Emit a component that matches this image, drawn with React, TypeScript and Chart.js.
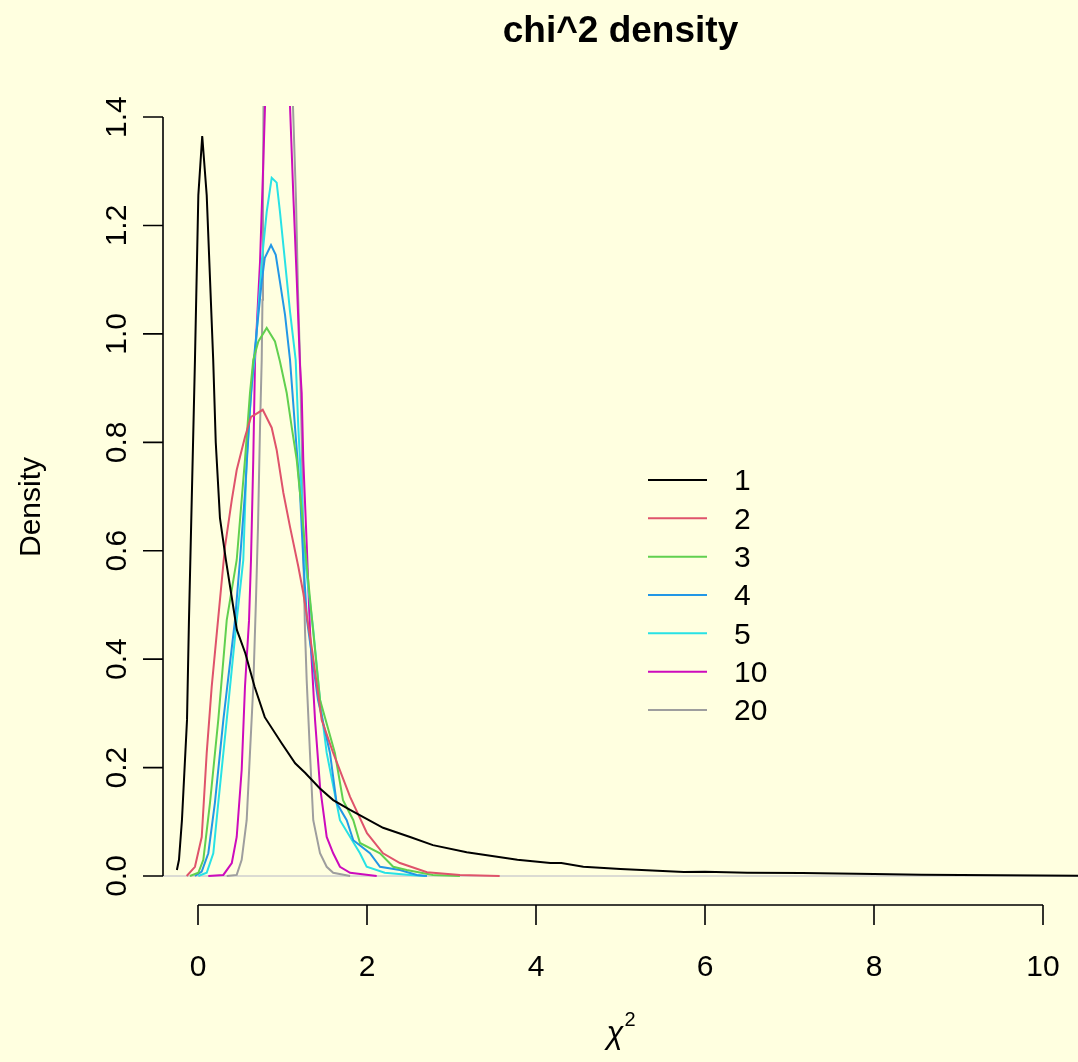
import React, { useEffect, useRef } from 'react';
import { Chart, registerables } from 'chart.js';

Chart.register(...registerables);

// ---------- data ----------
const seriesLabels = ['1', '2', '3', '4', '5', '10', '20'];
const seriesColors = ['#000000', '#DF536B', '#61D04F', '#2297E6', '#28E2E5', '#CD0BBC', '#9E9E9E'];

const df1X = [-0.25, -0.225, -0.19, -0.13, -0.107, -0.036, 0.004, 0.05, 0.103, 0.18, 0.21, 0.26, 0.33, 0.46, 0.56, 0.67, 0.79, 0.99, 1.15, 1.27, 1.44, 1.6, 1.8, 2.19, 2.51, 2.78, 3.18, 3.78, 4.17, 4.3, 4.56, 5.0, 5.75, 6.0, 6.5, 7.15, 8.0, 8.56, 9.5, 10.44];
const df1Y = [0.011, 0.03, 0.103, 0.288, 0.472, 0.952, 1.256, 1.365, 1.256, 0.952, 0.8, 0.66, 0.583, 0.454, 0.411, 0.349, 0.293, 0.245, 0.208, 0.19, 0.162, 0.14, 0.122, 0.089, 0.072, 0.057, 0.044, 0.03, 0.024, 0.024, 0.017, 0.013, 0.0074, 0.008, 0.006, 0.0055, 0.0035, 0.0024, 0.0012, 0.0006];

const df2X = [-0.134, -0.036, 0.044, 0.103, 0.162, 0.237, 0.32, 0.4, 0.458, 0.556, 0.627, 0.675, 0.766, 0.872, 0.931, 1.01, 1.089, 1.187, 1.246, 1.35, 1.464, 1.6, 1.8, 2.0, 2.19, 2.39, 2.71, 3.1, 3.57];
const df2Y = [0.0, 0.017, 0.072, 0.227, 0.349, 0.472, 0.608, 0.694, 0.749, 0.81, 0.847, 0.851, 0.86, 0.827, 0.786, 0.707, 0.644, 0.571, 0.522, 0.417, 0.288, 0.227, 0.146, 0.079, 0.042, 0.024, 0.007, 0.002, 0.0];

const df3X = [-0.095, 0.004, 0.063, 0.142, 0.24, 0.34, 0.458, 0.556, 0.615, 0.654, 0.714, 0.813, 0.911, 0.97, 1.05, 1.109, 1.168, 1.227, 1.266, 1.35, 1.444, 1.62, 1.716, 1.838, 1.917, 2.154, 2.31, 2.47, 2.78, 3.1];
const df3Y = [0.0, 0.006, 0.03, 0.135, 0.288, 0.472, 0.583, 0.768, 0.891, 0.952, 0.986, 1.011, 0.986, 0.949, 0.891, 0.828, 0.768, 0.675, 0.607, 0.472, 0.325, 0.227, 0.14, 0.103, 0.061, 0.042, 0.017, 0.011, 0.002, 0.0];

const df4X = [-0.036, 0.044, 0.122, 0.2, 0.3, 0.438, 0.497, 0.556, 0.615, 0.654, 0.754, 0.79, 0.864, 0.92, 0.97, 1.03, 1.089, 1.148, 1.207, 1.246, 1.29, 1.42, 1.562, 1.64, 1.76, 1.838, 2.035, 2.154, 2.39, 2.59, 2.71];
const df4Y = [0.0, 0.008, 0.042, 0.135, 0.288, 0.472, 0.583, 0.707, 0.86, 0.943, 1.096, 1.14, 1.164, 1.146, 1.096, 1.035, 0.952, 0.828, 0.707, 0.583, 0.472, 0.325, 0.227, 0.135, 0.103, 0.066, 0.042, 0.017, 0.011, 0.002, 0.0];

const df5X = [0.004, 0.103, 0.181, 0.24, 0.34, 0.458, 0.536, 0.576, 0.627, 0.675, 0.754, 0.813, 0.872, 0.931, 0.97, 1.03, 1.089, 1.156, 1.187, 1.227, 1.266, 1.364, 1.444, 1.523, 1.68, 1.917, 1.996, 2.21, 2.51, 2.69];
const df5Y = [0.0, 0.006, 0.042, 0.135, 0.288, 0.472, 0.583, 0.768, 0.891, 0.961, 1.133, 1.225, 1.288, 1.279, 1.225, 1.133, 1.041, 0.952, 0.828, 0.707, 0.583, 0.454, 0.325, 0.227, 0.103, 0.042, 0.017, 0.006, 0.002, 0.0];

const df10X = [0.122, 0.3, 0.4, 0.458, 0.517, 0.556, 0.604, 0.627, 0.654, 0.675, 0.734, 0.773, 0.793, 0.85, 0.93, 1.01, 1.089, 1.128, 1.168, 1.207, 1.227, 1.246, 1.286, 1.325, 1.385, 1.444, 1.523, 1.6, 1.68, 1.8, 2.115];
const df10Y = [0.0, 0.002, 0.024, 0.072, 0.196, 0.349, 0.472, 0.583, 0.768, 0.952, 1.133, 1.317, 1.42, 1.7, 1.85, 1.7, 1.42, 1.256, 1.103, 0.943, 0.891, 0.768, 0.614, 0.454, 0.288, 0.165, 0.072, 0.042, 0.017, 0.006, 0.0];

const df20X = [0.34, 0.458, 0.517, 0.576, 0.615, 0.654, 0.686, 0.71, 0.734, 0.754, 0.763, 0.769, 0.775, 0.8, 0.95, 1.09, 1.124, 1.16, 1.183, 1.207, 1.23, 1.243, 1.266, 1.286, 1.325, 1.364, 1.444, 1.523, 1.6, 1.8];
const df20Y = [0.0, 0.002, 0.03, 0.103, 0.227, 0.349, 0.509, 0.644, 0.828, 0.952, 1.063, 1.247, 1.42, 2.0, 2.5, 2.0, 1.42, 1.247, 1.081, 0.952, 0.786, 0.62, 0.454, 0.362, 0.227, 0.103, 0.042, 0.017, 0.006, 0.0];

const seriesX = [df1X, df2X, df3X, df4X, df5X, df10X, df20X];
const seriesY = [df1Y, df2Y, df3Y, df4Y, df5Y, df10Y, df20Y];

const xTicks = [0, 2, 4, 6, 8, 10];
const yTicks = [0, 0.2, 0.4, 0.6, 0.8, 1.0, 1.2, 1.4];
const yTickLabels = ['0.0', '0.2', '0.4', '0.6', '0.8', '1.0', '1.2', '1.4'];

const BG = '#FFFFE0';
const FONT = '"Liberation Sans", Arial, Helvetica, sans-serif';

const rPlot = {
  id: 'rPlot',
  beforeDraw(chart: any) {
    const ctx = chart.ctx;
    ctx.save();
    ctx.fillStyle = BG;
    ctx.fillRect(0, 0, chart.width, chart.height);
    ctx.restore();
  },
  beforeDatasetsDraw(chart: any) {
    const ctx = chart.ctx;
    const y = chart.scales.y.getPixelForValue(0);
    const a = chart.chartArea;
    ctx.save();
    ctx.strokeStyle = '#CFCFCF';
    ctx.lineWidth = 1.5;
    ctx.beginPath();
    ctx.moveTo(a.left, y);
    ctx.lineTo(a.right, y);
    ctx.stroke();
    ctx.restore();
  },
  afterDraw(chart: any) {
    const ctx = chart.ctx;
    const xs = chart.scales.x;
    const ys = chart.scales.y;
    const a = chart.chartArea;
    ctx.save();
    ctx.strokeStyle = '#000';
    ctx.fillStyle = '#000';
    ctx.lineWidth = 1.6;

    // x axis
    const axY = 905;
    const x0 = xs.getPixelForValue(xTicks[0]);
    const x1 = xs.getPixelForValue(xTicks[xTicks.length - 1]);
    ctx.beginPath();
    ctx.moveTo(x0, axY);
    ctx.lineTo(x1, axY);
    xTicks.forEach((t) => {
      const px = xs.getPixelForValue(t);
      ctx.moveTo(px, axY);
      ctx.lineTo(px, axY + 20);
    });
    ctx.stroke();
    ctx.font = `30px ${FONT}`;
    ctx.textAlign = 'center';
    ctx.textBaseline = 'alphabetic';
    xTicks.forEach((t) => {
      ctx.fillText(String(t), xs.getPixelForValue(t), 976);
    });

    // y axis
    const axX = a.left;
    const yA = ys.getPixelForValue(yTicks[0]);
    const yB = ys.getPixelForValue(yTicks[yTicks.length - 1]);
    ctx.beginPath();
    ctx.moveTo(axX, yA);
    ctx.lineTo(axX, yB);
    yTicks.forEach((t) => {
      const py = ys.getPixelForValue(t);
      ctx.moveTo(axX, py);
      ctx.lineTo(axX - 20, py);
    });
    ctx.stroke();
    yTicks.forEach((t, i) => {
      const py = ys.getPixelForValue(t);
      ctx.save();
      ctx.translate(126, py);
      ctx.rotate(-Math.PI / 2);
      ctx.textAlign = 'center';
      ctx.textBaseline = 'alphabetic';
      ctx.fillText(yTickLabels[i], 0, 0);
      ctx.restore();
    });

    // axis titles
    ctx.save();
    ctx.translate(40, 507);
    ctx.rotate(-Math.PI / 2);
    ctx.textAlign = 'center';
    ctx.fillText('Density', 0, 0);
    ctx.restore();

    ctx.textAlign = 'center';
    ctx.font = `italic 31px ${FONT}`;
    ctx.fillText('\u03C7', 615, 1043);
    ctx.font = `20px ${FONT}`;
    ctx.fillText('2', 630, 1026);

    // title
    ctx.font = `bold 37px ${FONT}`;
    ctx.fillText('chi^2 density', (a.left + chart.width) / 2, 42);

    // legend
    ctx.font = `30px ${FONT}`;
    ctx.textAlign = 'left';
    ctx.textBaseline = 'middle';
    seriesLabels.forEach((lab, i) => {
      const ly = 480 + i * 38.33;
      ctx.strokeStyle = seriesColors[i];
      ctx.lineWidth = 2;
      ctx.beginPath();
      ctx.moveTo(648, ly);
      ctx.lineTo(707, ly);
      ctx.stroke();
      ctx.fillStyle = '#000';
      ctx.fillText(lab, 734, ly + 2);
    });
    ctx.restore();
  },
};

export default function App() {
  const ref = useRef<HTMLCanvasElement | null>(null);
  useEffect(() => {
    document.body.style.margin = '0';
    document.body.style.background = BG;
    const canvas = ref.current;
    if (!canvas) return;
    const datasets = seriesLabels.map((lab, i) => ({
      label: lab,
      data: seriesX[i].map((x, j) => ({ x, y: seriesY[i][j] })),
      borderColor: seriesColors[i],
      borderWidth: 2,
      pointRadius: 0,
      tension: 0,
      fill: false,
    }));
    const chart = new Chart(canvas, {
      type: 'line',
      data: { datasets },
      options: {
        responsive: false,
        animation: false,
        events: [],
        layout: { padding: { left: 163, right: 0, top: 106, bottom: 156 } },
        plugins: { legend: { display: false }, tooltip: { enabled: false }, title: { display: false } },
        scales: {
          x: { type: 'linear', min: -0.4142, max: 10.4142, display: false },
          y: { type: 'linear', min: -0.0553, max: 1.4204, display: false },
        },
      },
      plugins: [rPlot],
    });
    return () => chart.destroy();
  }, []);
  return <canvas ref={ref} width={1078} height={1062} style={{ display: 'block' }} />;
}
